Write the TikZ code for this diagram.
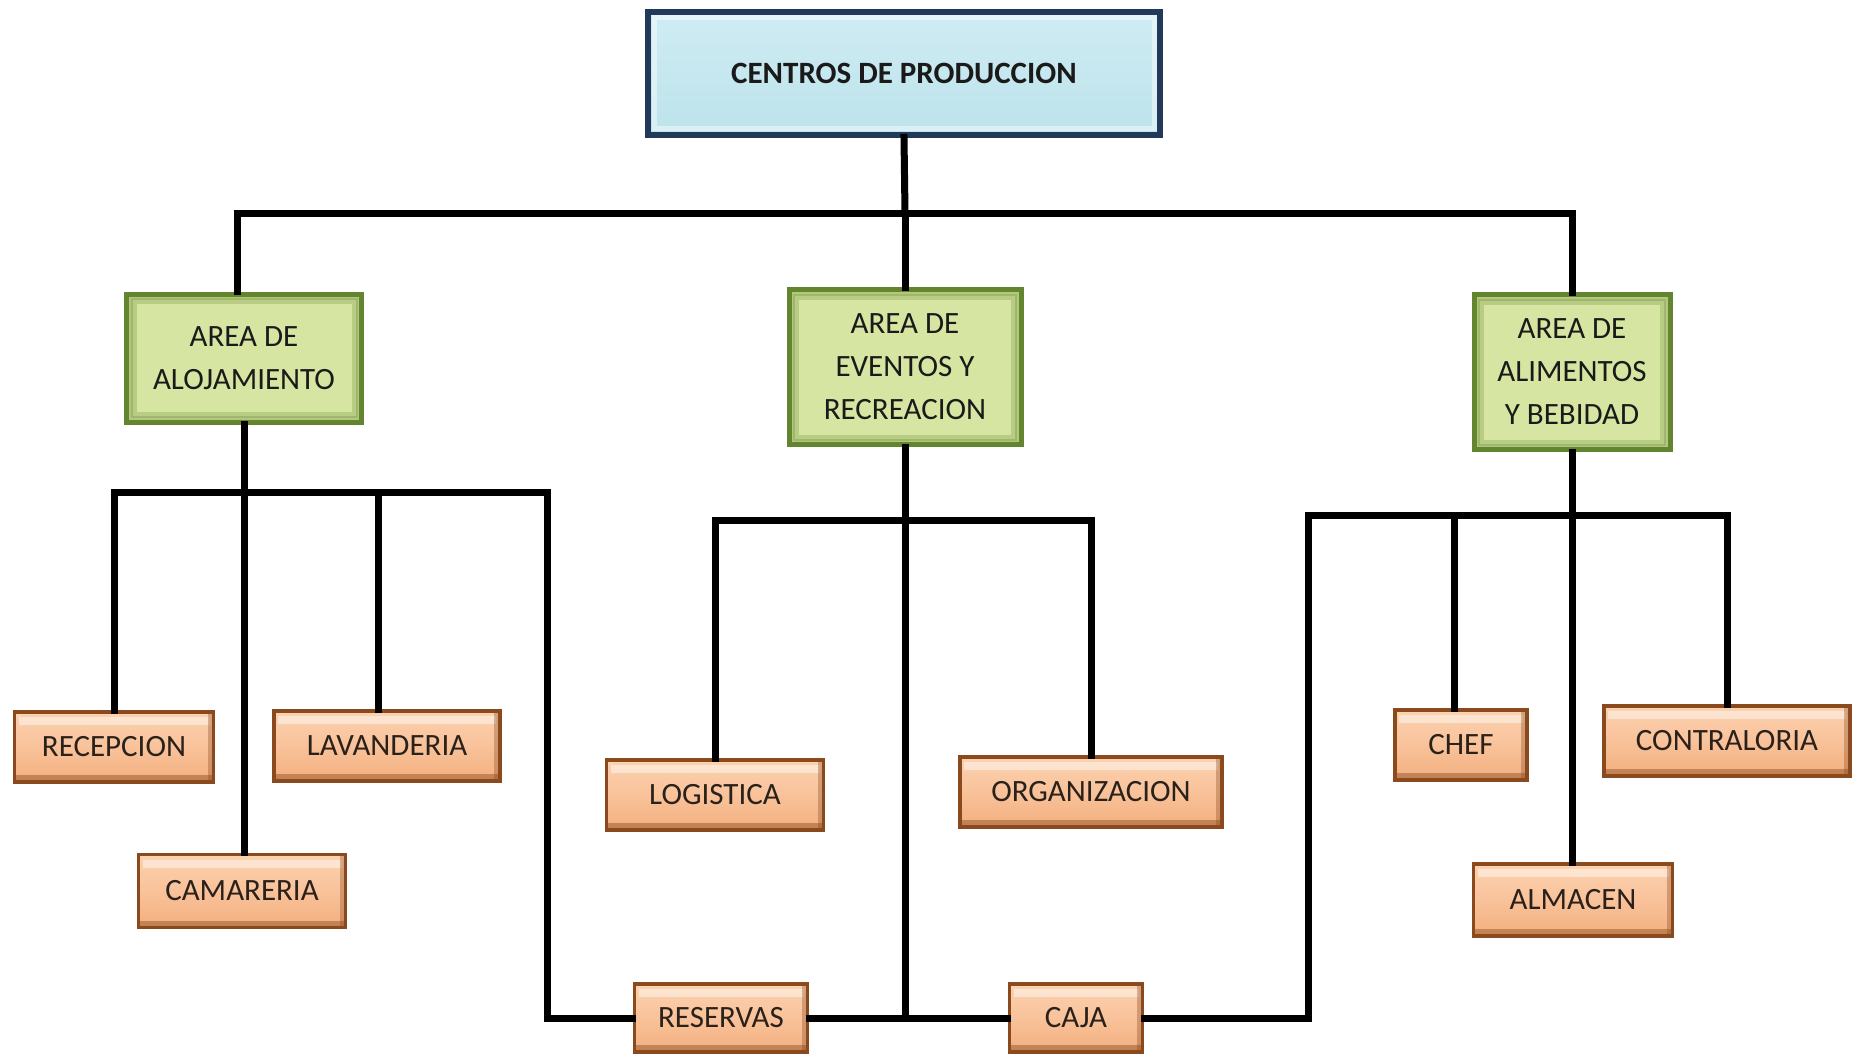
\documentclass[tikz,border=0pt]{standalone}
\usepackage{fontspec}
\setmainfont{Carlito}
\definecolor{navy}{HTML}{22395A}
\definecolor{skyfill}{HTML}{BDE3EB}
\definecolor{skytop}{HTML}{CFECF3}
\definecolor{leafline}{HTML}{638530}
\definecolor{leaffill}{HTML}{D6E5A1}
\definecolor{peachtop}{HTML}{FBD2B0}
\definecolor{peachmid}{HTML}{F9C29A}
\definecolor{peachbot}{HTML}{F2AF7E}
\definecolor{rust}{HTML}{8A4A1E}
\definecolor{ink}{HTML}{1A1A1A}
\tikzset{
  every node/.style={font=\fontsize{31}{43}\selectfont, text=ink, align=center, inner sep=0pt},
  headbox/.style={draw=navy, line width=6pt, top color=skytop, bottom color=skyfill,
    minimum width=512pt, minimum height=123pt, font=\fontsize{31}{43}\selectfont\bfseries,
    path picture={
      \draw[white, opacity=0.45, line width=5pt]
        ([shift={(6pt,-6pt)}]path picture bounding box.north west) rectangle
        ([shift={(-6pt,6pt)}]path picture bounding box.south east);}},
  areabox/.style={draw=leafline, line width=5pt, fill=leaffill,
    path picture={
      \draw[leafline, opacity=0.30, line width=12pt]
        (path picture bounding box.north west) rectangle
        (path picture bounding box.south east);
      \draw[leafline, opacity=0.25, line width=6pt]
        ([shift={(7pt,-7pt)}]path picture bounding box.north west) rectangle
        ([shift={(-7pt,7pt)}]path picture bounding box.south east);}},
  unitbox/.style={draw=rust, line width=3.5pt, top color=peachtop, bottom color=peachbot,
    middle color=peachmid, minimum height=70pt, text=ink!85!rust,
    path picture={
      \fill[white, opacity=0.45]
        ([shift={(4pt,-5pt)}]path picture bounding box.north west) rectangle
        ([shift={(-4pt,-13pt)}]path picture bounding box.north east);
      \fill[rust, opacity=0.45]
        ([shift={(0pt,0pt)}]path picture bounding box.south west) rectangle
        ([shift={(0pt,7pt)}]path picture bounding box.south east);
      \fill[rust, opacity=0.35]
        (path picture bounding box.south east) rectangle
        ([shift={(-6pt,0pt)}]path picture bounding box.north east);}},
  link/.style={draw=black, line width=7pt, line cap=rect, line join=miter}
}
\begin{document}
\begin{tikzpicture}[x=1pt,y=-1pt]
\useasboundingbox[fill=white] (0,0) rectangle (1860,1055);

% top level
\node[headbox] (top) at (904,73) {CENTROS DE PRODUCCION};

% areas
\node[areabox, minimum width=235pt, minimum height=128pt] (aloj) at (244,358) {AREA DE\\ALOJAMIENTO};
\node[areabox, minimum width=232pt, minimum height=155pt] (even) at (905,367) {AREA DE\\EVENTOS Y\\RECREACION};
\node[areabox, minimum width=196pt, minimum height=155pt] (alim) at (1572,372) {AREA DE\\ALIMENTOS\\Y BEBIDAD};

% units
\node[unitbox, minimum width=199pt] (recep) at (114,747) {RECEPCION};
\node[unitbox, minimum width=226pt] (lavan) at (387,746) {LAVANDERIA};
\node[unitbox, minimum width=207pt, minimum height=73pt] (cama) at (242,891) {CAMARERIA};
\node[unitbox, minimum width=217pt] (logis) at (715,795) {LOGISTICA};
\node[unitbox, minimum width=262pt] (organ) at (1091,792) {ORGANIZACION};
\node[unitbox, minimum width=173pt, minimum height=68pt] (reserv) at (721,1018) {RESERVAS};
\node[unitbox, minimum width=133pt, minimum height=68pt] (caja) at (1076,1018) {CAJA};
\node[unitbox, minimum width=132pt] (chef) at (1461,745) {CHEF};
\node[unitbox, minimum width=246pt] (contra) at (1727,741) {CONTRALORIA};
\node[unitbox, minimum width=199pt, minimum height=72pt] (almac) at (1573,900) {ALMACEN};

% junction points of the connector bars
\coordinate (hubTop) at (905,213);
\coordinate (aTop) at (237,213);
\coordinate (aL) at (113,492);
\coordinate (aLv) at (378,492);
\coordinate (aR) at (547,492);
\coordinate (eL) at (715,520);
\coordinate (eR) at (1091,520);
\coordinate (fL) at (1308,515);
\coordinate (fC) at (1454,515);

% links: top to areas
\draw[link] (top.south) -- (hubTop);
\draw[link] (aTop |- aloj.north) -- (aTop) -- (alim.north |- hubTop) -- (alim.north);
\draw[link] (hubTop) -- (even.north);

% links: lodging area
\draw[link] (aloj.south) -- (aloj.south |- cama.north);
\draw[link] (recep.north) -- (recep.north |- aL) -- (aR) -- (aR |- reserv.west) -- (reserv.west);
\draw[link] (aLv) -- (aLv |- lavan.north);

% links: events area
\draw[link] (logis.north) -- (logis.north |- eL) -- (organ.north |- eR) -- (organ.north);
\draw[link] (even.south) -- (even.south |- reserv.east);
\draw[link] (reserv.east) -- (caja.west);

% links: food and beverage area
\draw[link] (caja.east) -- (fL |- caja.east) -- (fL) -- (contra.north |- fL) -- (contra.north);
\draw[link] (fC) -- (fC |- chef.north);
\draw[link] (alim.south) -- (alim.south |- almac.north);
\end{tikzpicture}
\end{document}
